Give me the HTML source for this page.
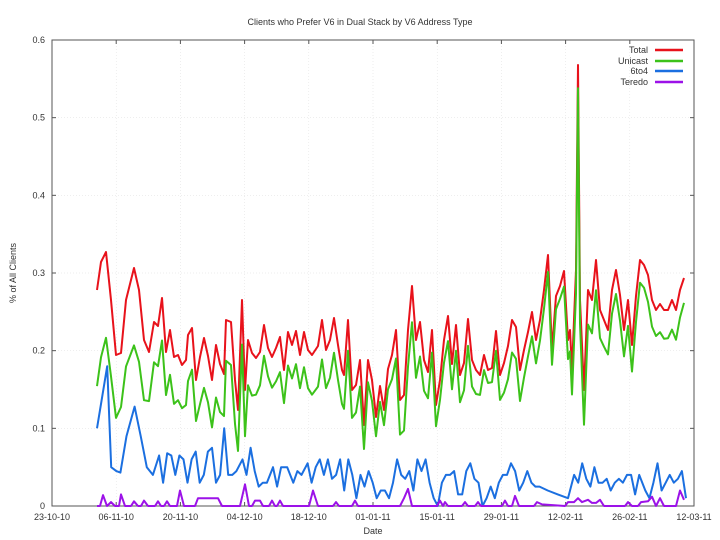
<!DOCTYPE html>
<html><head><meta charset="utf-8"><style>
body{margin:0;background:#fff;}
svg{display:block;font-family:"Liberation Sans",sans-serif;}
</style></head><body>
<svg id="s" width="720" height="540" xmlns="http://www.w3.org/2000/svg">
<rect width="720" height="540" fill="#fff"/>
<text x="360" y="25" font-size="9" text-anchor="middle" fill="#333">Clients who Prefer V6 in Dual Stack by V6 Address Type</text>
<text x="16" y="273" font-size="9" text-anchor="middle" fill="#333" transform="rotate(-90 16 273)">% of All Clients</text>
<text x="373" y="534" font-size="9" text-anchor="middle" fill="#333">Date</text>
<g id="g"></g>
<g font-size="9" fill="#333" text-anchor="end">
<text x="648" y="53">Total</text><text x="648" y="64">Unicast</text><text x="648" y="74">6to4</text><text x="648" y="85">Teredo</text>
</g>
<g stroke-width="2.5">
<line x1="655" y1="50" x2="683" y2="50" stroke="#e8121b"/>
<line x1="655" y1="61" x2="683" y2="61" stroke="#3cc21a"/>
<line x1="655" y1="71" x2="683" y2="71" stroke="#1b6fe0"/>
<line x1="655" y1="82" x2="683" y2="82" stroke="#9c12e8"/>
</g>
</svg>
<script>
const L=52,R=694,T=40,B=506;
const Y=v=>B-v*(B-T)/0.6;
const V=y=>(B-y)*0.6/(B-T);
let h='';
for(let i=0;i<=6;i++){const y=Y(i*0.1);
 h+=`<line x1="${L}" y1="${y}" x2="${R}" y2="${y}" stroke="#ddd" stroke-width="0.5" stroke-dasharray="1,2"/>`;
 h+=`<line x1="${L}" y1="${y}" x2="${L+4}" y2="${y}" stroke="#555"/><line x1="${R}" y1="${y}" x2="${R-4}" y2="${y}" stroke="#555"/>`;
 h+=`<text x="${L-7}" y="${y+3}" font-size="9" fill="#333" text-anchor="end">${i==0?'0':(i/10).toFixed(1)}</text>`;}
const labs=['23-10-10','06-11-10','20-11-10','04-12-10','18-12-10','01-01-11','15-01-11','29-01-11','12-02-11','26-02-11','12-03-11'];
for(let i=0;i<=10;i++){const x=L+i*64.2;
 h+=`<line x1="${x}" y1="${T}" x2="${x}" y2="${B}" stroke="#ddd" stroke-width="0.5" stroke-dasharray="1,2"/>`;
 h+=`<line x1="${x}" y1="${B}" x2="${x}" y2="${B-4}" stroke="#555"/><line x1="${x}" y1="${T}" x2="${x}" y2="${T+4}" stroke="#555"/>`;
 h+=`<text x="${x}" y="${B+14}" font-size="9" fill="#333" text-anchor="middle">${labs[i]}</text>`;}
h+=`<rect x="${L}" y="${T}" width="${R-L}" height="${B-T}" fill="none" stroke="#555" stroke-width="1"/>`;
const red=[[97,290],[101,262],[106,252],[111,300],[116,355],[121,353],[126,300],[134,268],[139,290],[144,340],[149,352],[154,322],[158,326],[162,298],[166,352],[170,330],[174,357],[178,355],[182,365],[186,360],[188,335],[192,328],[196,380],[200,357],[204,338],[208,356],[212,380],[216,345],[220,364],[224,374],[226,320],[231,322],[235,380],[238,410],[242,300],[245,390],[248,340],[252,353],[256,358],[260,352],[264,325],[268,348],[272,357],[276,348],[280,337],[284,370],[288,332],[292,345],[296,331],[300,355],[304,332],[308,350],[312,355],[318,346],[322,320],[326,350],[330,340],[334,318],[338,345],[342,370],[344,375],[348,320],[352,390],[356,385],[360,360],[364,425],[368,360],[372,380],[376,417],[380,386],[384,410],[388,369],[392,355],[396,330],[400,400],[404,395],[408,330],[412,286],[416,340],[420,322],[424,360],[428,372],[432,330],[436,405],[440,380],[444,340],[448,316],[452,364],[456,325],[460,375],[464,363],[468,319],[472,360],[476,370],[480,375],[484,355],[488,370],[492,368],[496,331],[500,375],[504,363],[508,346],[512,320],[516,327],[520,370],[524,350],[528,332],[532,312],[536,340],[540,320],[544,290],[548,255],[552,350],[556,296],[560,286],[564,271],[568,340],[570,330],[572,370],[576,270],[578,65],[580,300],[584,390],[588,290],[592,300],[596,260],[600,310],[604,320],[608,330],[612,290],[616,270],[620,295],[624,330],[628,300],[632,345],[636,296],[640,260],[644,265],[648,275],[652,300],[656,310],[660,304],[664,310],[668,310],[672,300],[676,310],[680,290],[684,278]];
const blue=[[97,.1],[102,.14],[107,.18],[111,.05],[116,.045],[120,.043],[126,.09],[134,.128],[140,.09],[146,.05],[152,.04],[158,.065],[162,.03],[166,.068],[170,.065],[174,.04],[178,.065],[182,.06],[186,.03],[190,.06],[194,.07],[198,.03],[202,.04],[206,.07],[210,.075],[214,.03],[218,.04],[222,.1],[226,.04],[230,.04],[234,.045],[240,.06],[244,.04],[248,.075],[252,.045],[256,.025],[260,.03],[264,.03],[270,.05],[274,.025],[278,.05],[284,.05],[290,.03],[294,.045],[298,.04],[304,.055],[308,.03],[312,.05],[316,.06],[320,.04],[324,.06],[328,.035],[332,.04],[336,.06],[340,.02],[344,.06],[348,.04],[352,.01],[356,.04],[360,.025],[364,.045],[368,.03],[372,.01],[376,.02],[380,.02],[384,.01],[388,.03],[392,.06],[396,.04],[400,.035],[404,.045],[408,.02],[412,.06],[416,.045],[420,.06],[424,.03],[428,.01],[432,.0],[436,.03],[440,.04],[444,.04],[448,.045],[452,.015],[456,.015],[460,.045],[464,.055],[468,.035],[472,.03],[476,.0],[480,.01],[484,.025],[488,.01],[492,.03],[496,.04],[500,.04],[504,.055],[508,.045],[512,.02],[516,.03],[520,.045],[524,.03],[528,.025],[532,.025],[540,.02],[550,.015],[560,.01],[566,.04],[570,.03],[574,.055],[578,.035],[582,.025],[586,.05],[590,.03],[594,.03],[598,.035],[602,.02],[606,.03],[610,.035],[614,.03],[618,.04],[622,.04],[626,.015],[630,.04],[636,.02],[640,.01],[644,.03],[648,.055],[652,.02],[656,.03],[660,.04],[664,.03],[668,.035],[672,.045],[676,.01]];
const pur=[[97,0],[100,0],[103,.014],[107,0],[111,.005],[115,0],[119,0],[121,.015],[125,0],[131,0],[134,.006],[138,0],[141,0],[144,.007],[148,0],[155,0],[158,.006],[161,0],[164,0],[167,.006],[170,0],[177,0],[180,.02],[184,0],[195,0],[198,.01],[218,.01],[222,0],[240,0],[245,.028],[249,0],[252,0],[255,.007],[260,.007],[263,0],[269,0],[272,.007],[275,0],[277,0],[280,.007],[283,0],[309,0],[313,.02],[318,0],[333,0],[336,.005],[339,0],[352,0],[355,.007],[358,0],[400,0],[404,.01],[408,.022],[412,0],[437,0],[440,.007],[443,0],[445,.005],[448,0],[462,0],[465,.005],[468,0],[475,0],[478,.005],[481,0],[502,0],[505,.007],[508,0],[512,0],[515,.013],[519,0],[534,0],[537,.005],[542,.002],[565,0],[568,.005],[574,.005],[578,.01],[582,.005],[588,.008],[592,.004],[596,.004],[600,.008],[604,0],[625,0],[628,.005],[632,0],[638,0],[641,.005],[648,.006],[652,.012],[656,0],[660,.01],[664,0],[676,0],[680,.02],[684,.008]];
for(const b of blue){b[0]=97+(b[0]-97)*(686-97)/(676-97);}
const interp=(a,x)=>{if(x<=a[0][0])return a[0][1];for(let i=1;i<a.length;i++)if(x<=a[i][0]){const[p,q]=[a[i-1],a[i]];return p[1]+(q[1]-p[1])*(x-p[0])/(q[0]-p[0]);}return a[a.length-1][1];};
const smooth=(x)=>{let s=0,n=0;for(let d=-10;d<=10;d+=2){s+=interp(blue,x+d)+interp(pur,x+d);n++;}return s/n;};
const pl=(pts,c)=>`<polyline fill="none" stroke="${c}" stroke-width="2" stroke-linejoin="round" points="${pts.map(p=>p[0].toFixed(1)+','+p[1].toFixed(1)).join(' ')}"/>`;
const green=red.map(p=>{let off=smooth(p[0]);if(p[0]>=576&&p[0]<=580)off=0.03;let v=V(p[1])-off;if(v<0.07)v=0.07;return[p[0],Y(v)];});
h+=pl(red,'#e8121b');
h+=pl(green,'#3cc21a');
h+=pl(blue.map(p=>[p[0],Y(p[1])]),'#1b6fe0');
h+=pl(pur.map(p=>[p[0],Y(p[1])]),'#9c12e8');
document.getElementById('g').innerHTML=h;
</script>
</body></html>
